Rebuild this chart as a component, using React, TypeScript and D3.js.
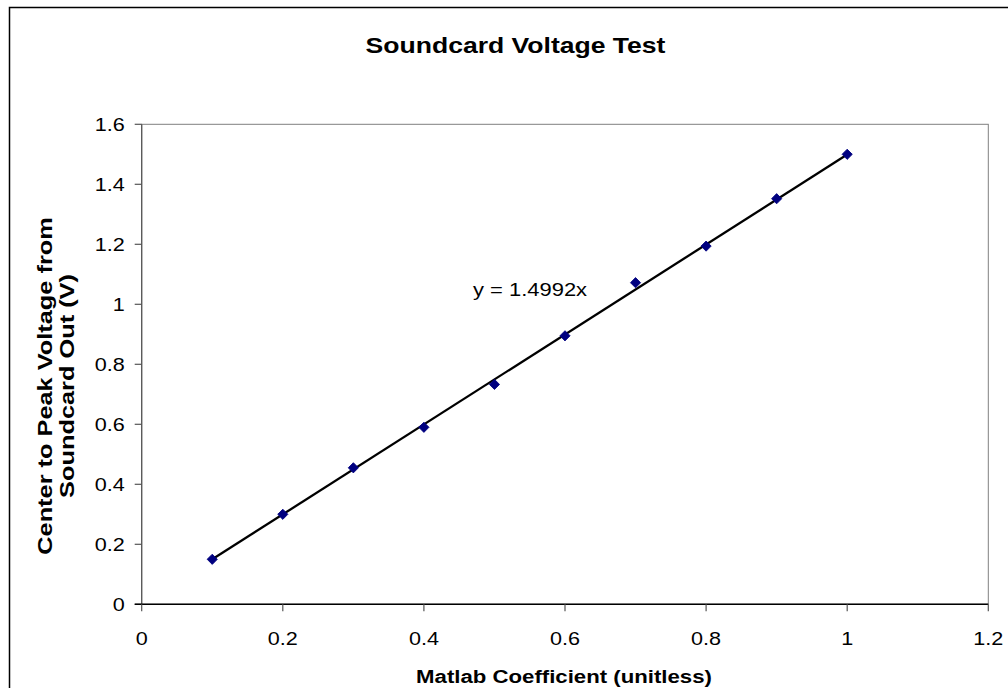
import React from "react";
import * as d3 from "d3";

const coefficients = [0.1, 0.2, 0.3, 0.4, 0.5, 0.6, 0.7, 0.8, 0.9, 1.0];
const voltages = [0.15, 0.3, 0.455, 0.59, 0.733, 0.895, 1.072, 1.194, 1.352, 1.5];
const slope = 1.4992;
const xTicks = [0, 0.2, 0.4, 0.6, 0.8, 1, 1.2];
const yTicks = [0, 0.2, 0.4, 0.6, 0.8, 1, 1.2, 1.4, 1.6];
const titleText = "Soundcard Voltage Test";
const xTitle = "Matlab Coefficient (unitless)";
const yTitleLines = ["Center to Peak Voltage from", "Soundcard Out (V)"];
const equationText = "y = 1.4992x";

const FONT = "'Liberation Sans', Arial, Helvetica, sans-serif";
const SX = 1.2;

export default function App() {
  const left = 141.7, right = 988.3, top = 124.3, bottom = 604.3;
  const x = d3.scaleLinear().domain([0, 1.2]).range([left, right]);
  const y = d3.scaleLinear().domain([0, 1.6]).range([bottom, top]);
  const diamond = d3.symbol().type(d3.symbolSquare).size(52)();
  const trend = d3.line<number>().x((d) => x(d)).y((d) => y(slope * d));
  const trendPath = trend([coefficients[0], coefficients[coefficients.length - 1]]) || "";
  const fmt = (v: number) => String(+v.toFixed(1));

  return (
    <div style={{ position: "fixed", left: 0, top: 0, width: 1008, height: 688, background: "#fff" }}>
      <svg width={1008} height={688} style={{ display: "block" }}>
        <rect x={0} y={0} width={1008} height={688} fill="#fff" />
        <rect x={9.5} y={7.5} width={1020} height={700} fill="none" stroke="#000" strokeWidth={1.5} />
        {/* plot area border */}
        <rect x={left} y={top} width={right - left} height={bottom - top} fill="none" stroke="#808080" strokeWidth={1} />
        {/* y axis */}
        <line x1={left} x2={left} y1={top} y2={bottom} stroke="#555" strokeWidth={1.2} />
        {yTicks.map((t) => (
          <g key={"y" + t}>
            <line x1={left - 7} x2={left} y1={y(t)} y2={y(t)} stroke="#555" strokeWidth={1.2} />
            <text
              transform={`translate(${left - 17},${y(t) + 6.5}) scale(${SX},1)`}
              textAnchor="end"
              fontFamily={FONT}
              fontSize={18}
              fill="#000"
            >
              {fmt(t)}
            </text>
          </g>
        ))}
        {/* x axis */}
        <line x1={left - 7} x2={right} y1={bottom} y2={bottom} stroke="#000" strokeWidth={1.5} />
        {xTicks.map((t) => (
          <g key={"x" + t}>
            <line x1={x(t)} x2={x(t)} y1={bottom} y2={bottom + 7} stroke="#555" strokeWidth={1.2} />
            <text
              transform={`translate(${x(t)},${bottom + 41}) scale(${SX},1)`}
              textAnchor="middle"
              fontFamily={FONT}
              fontSize={18}
              fill="#000"
            >
              {fmt(t)}
            </text>
          </g>
        ))}
        {/* trendline */}
        <path d={trendPath} fill="none" stroke="#000" strokeWidth={2.3} />
        {/* points */}
        {coefficients.map((c, i) => (
          <path
            key={"p" + i}
            d={diamond}
            transform={`translate(${x(c)},${y(voltages[i])}) rotate(45)`}
            fill="#000080"
            stroke="#000080"
            strokeWidth={0.8}
          />
        ))}
        {/* equation */}
        <text
          transform={`translate(473,296) scale(1.22,1)`}
          fontFamily={FONT}
          fontSize={18}
          fill="#000"
        >
          {equationText}
        </text>
        {/* title */}
        <text
          transform={`translate(515.5,53) scale(1.18,1)`}
          textAnchor="middle"
          fontFamily={FONT}
          fontWeight="bold"
          fontSize={22.5}
          fill="#000"
        >
          {titleText}
        </text>
        {/* x title */}
        <text
          transform={`translate(564,683) scale(${SX},1)`}
          textAnchor="middle"
          fontFamily={FONT}
          fontWeight="bold"
          fontSize={18.5}
          fill="#000"
        >
          {xTitle}
        </text>
        {/* y title */}
        {yTitleLines.map((line, i) => (
          <text
            key={"yt" + i}
            transform={`translate(${52 + i * 22},386) rotate(-90) scale(1.3,1)`}
            textAnchor="middle"
            fontFamily={FONT}
            fontWeight="bold"
            fontSize={19.5}
            fill="#000"
          >
            {line}
          </text>
        ))}
      </svg>
    </div>
  );
}
